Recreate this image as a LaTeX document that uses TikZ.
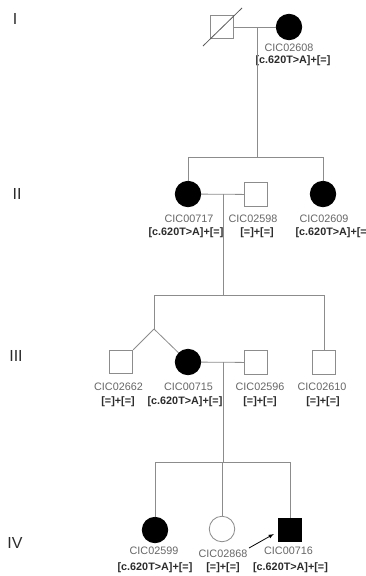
\documentclass[tikz,border=0pt]{standalone}
\usepackage{fontspec}
\setmainfont{Liberation Sans}
\usetikzlibrary{positioning}
\definecolor{linegray}{HTML}{8C8C8C}
\definecolor{idgray}{HTML}{666666}
\definecolor{genodark}{HTML}{2B2B2B}
\begin{document}
\begin{tikzpicture}[x=1pt, y=-1pt,
    male/.style={shape=rectangle, draw=linegray, line width=0.8pt, minimum size=23.5pt, inner sep=0pt, fill=white},
    female/.style={shape=circle, draw=linegray, line width=0.8pt, minimum size=25.5pt, inner sep=0pt, fill=white},
    affected/.style={fill=black, draw=black},
    idlab/.style={anchor=base, inner sep=0pt, text=idgray, font=\fontsize{10.8}{13}\selectfont},
    geno/.style={anchor=base, inner sep=0pt, text=genodark, font=\fontsize{10.8}{13}\selectfont\bfseries},
    gen/.style={inner sep=0pt, text=genodark, font=\fontsize{16}{19}\selectfont},
    link/.style={draw=linegray, line width=0.8pt},
    proband/.style={draw=black, line width=0.8pt, -latex}]
  \useasboundingbox (0,0) rectangle (365,576);

  % generations
  \node[gen] (g1) at (15,19) {I};
  \node[gen] (g2) at (17,194) {II};
  \node[gen] (g3) at (16,356) {III};
  \node[gen] (g4) at (15,543) {IV};

  % generation I
  \node[male] (m08) at (222,27) {};
  \node[female, affected] (f08) at (289,27) {};
  \node[idlab] (f08id) at (289,51) {CIC02608};
  \node[geno] (f08gt) at (293,63.5) {[c.620T>A]+[=]};
  \draw[black!65, line width=0.8pt] ([shift={(-19pt,-19pt)}]m08.center) -- ([shift={(20pt,19pt)}]m08.center);
  \coordinate (d1) at (257,27);
  \coordinate (s2) at (0,157);

  \draw[link] (m08) -- (f08);
  \draw[link] (d1) -- (d1 |- s2);

  % generation II
  \node[female, affected] (f17) at (188,194) {};
  \node[male] (m98) at (256,194.5) {};
  \node[female, affected] (f09) at (323,194) {};
  \node[idlab] (f17id) at (189,222) {CIC00717};
  \node[geno] (f17gt) at (186,235.5) {[c.620T>A]+[=]};
  \node[idlab] (m98id) at (253,222) {CIC02598};
  \node[geno] (m98gt) at (257,235.5) {[=]+[=]};
  \node[idlab] (f09id) at (324,222) {CIC02609};
  \node[geno] (f09gt) at (333,235.5) {[c.620T>A]+[=]};
  \coordinate (d2) at (223,194);
  \coordinate (s3l) at (154,295);

  \draw[link] (f17) -- (f17 |- s2) -- (f09 |- s2) -- (f09);
  \draw[link] (f17) -- (m98);
  \draw[link] (d2) -- (d2 |- s3l);

  % generation III
  \node[male] (m62) at (121,362) {};
  \node[female, affected] (f15) at (188,362) {};
  \node[male] (m96) at (256,362.5) {};
  \node[male] (m10) at (324,362.5) {};
  \node[idlab] (m62id) at (118.5,390) {CIC02662};
  \node[geno] (m62gt) at (118,404) {[=]+[=]};
  \node[idlab] (f15id) at (188.5,390) {CIC00715};
  \node[geno] (f15gt) at (185,404) {[c.620T>A]+[=]};
  \node[idlab] (m96id) at (260,390) {CIC02596};
  \node[geno] (m96gt) at (260,404) {[=]+[=]};
  \node[idlab] (m10id) at (322,390) {CIC02610};
  \node[geno] (m10gt) at (323,404) {[=]+[=]};
  \coordinate (tw) at (154,329);
  \coordinate (d3) at (223,362);
  \coordinate (s4) at (0,462);

  \draw[link] (tw) -- (s3l) -- (s3l -| m10) -- (m10);
  \draw[link] (tw) -- (m62);
  \draw[link] (tw) -- (f15);
  \draw[link] (f15) -- (m96);
  \draw[link] (d3) -- (d3 |- s4);

  % generation IV
  \node[female, affected] (f99) at (155,530) {};
  \node[female] (f68) at (222,529) {};
  \node[male, affected] (m16) at (290,530) {};
  \node[idlab] (f99id) at (154,554) {CIC02599};
  \node[geno] (f99gt) at (155,570) {[c.620T>A]+[=]};
  \node[idlab] (f68id) at (223,557) {CIC02868};
  \node[geno] (f68gt) at (223,570) {[=]+[=]};
  \node[idlab] (m16id) at (288.5,554) {CIC00716};
  \node[geno] (m16gt) at (290.5,570) {[c.620T>A]+[=]};
  \coordinate (pbtail) at (249,548);

  \draw[link] (f99) -- (f99 |- s4) -- (m16 |- s4) -- (m16);
  \draw[link] (f68) -- (f68 |- s4);
  \draw[proband] (pbtail) -- ([xshift=-4pt,yshift=-4pt]m16.west);
\end{tikzpicture}
\end{document}
